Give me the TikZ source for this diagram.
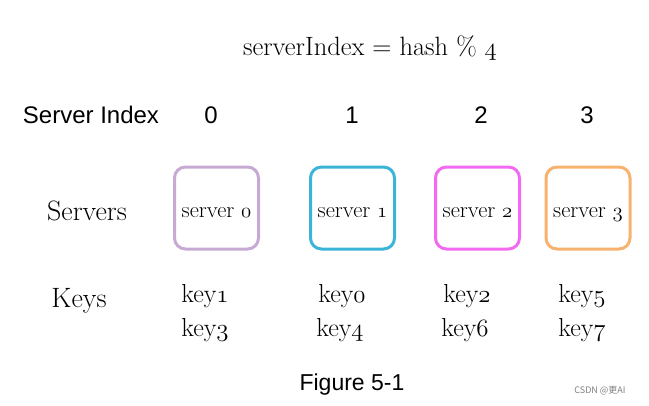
\documentclass[tikz,border=0pt]{standalone}
\usepackage{fontspec}
\usepackage{xcolor}
\usepackage{tikz}
\usetikzlibrary{positioning}
\newfontfamily\arialfont{Liberation Sans}
\newfontfamily\cjk{Noto Sans CJK SC}

\definecolor{lavbox}{RGB}{198,170,212}
\definecolor{cyanbox}{RGB}{60,180,216}
\definecolor{pinkbox}{RGB}{242,106,240}
\definecolor{orangebox}{RGB}{247,178,111}

\newcommand{\osn}[1]{{\usefont{OML}{cmm}{m}{it}#1}}

\begin{document}
\begin{tikzpicture}[x=1pt,y=-1pt,
    sanslabel/.style={font=\arialfont\fontsize{24}{28}\selectfont},
    seriflabel/.style={font=\fontsize{28}{32}\selectfont},
    keylabel/.style={font=\fontsize{26}{30}\selectfont,text height=18pt,text depth=7pt},
    srvbox/.style={draw,line width=3pt,rounded corners=11pt,minimum width=84pt,
      minimum height=82pt,text height=19pt,text depth=0pt,
      font=\fontsize{22.5}{26}\selectfont}]
  \useasboundingbox (0,0) rectangle (649,405);
  \node[font=\fontsize{26.5}{30}\selectfont] (formula) at (370,48) {serverIndex = hash \% \osn{4}};
  % index row
  \node[sanslabel] (idxlabel) at (91,115) {Server Index};
  \node[sanslabel] (idx0) at (211,115) {0};
  \node[sanslabel] (idx1) at (352,115) {1};
  \node[sanslabel] (idx2) at (481,115) {2};
  \node[sanslabel] (idx3) at (587,115) {3};
  % servers
  \node[seriflabel] (srvlabel) at (87,211) {Servers};
  \node[srvbox,draw=lavbox] (srv0) at (216.5,208) {server \osn{0}};
  \node[srvbox,draw=cyanbox] (srv1) at (352.5,208) {server \osn{1}};
  \node[srvbox,draw=pinkbox] (srv2) at (477.5,208) {server \osn{2}};
  \node[srvbox,draw=orangebox] (srv3) at (588,208) {server \osn{3}};
  % keys
  \node[seriflabel] (keyslabel) at (79,301) {Keys};
  \node[keylabel] (k1) at (205,297) {key\osn{1}};
  \node[keylabel] (k3) at (205,331) {key\osn{3}};
  \node[keylabel] (k0) at (342,297) {key\osn{0}};
  \node[keylabel] (k4) at (340,331) {key\osn{4}};
  \node[keylabel] (k2) at (467,297) {key\osn{2}};
  \node[keylabel] (k6) at (465,331) {key\osn{6}};
  \node[keylabel] (k5) at (582,297) {key\osn{5}};
  \node[keylabel] (k7) at (582,331) {key\osn{7}};
  \node[font=\arialfont\fontsize{23}{27}\selectfont] (caption) at (352,385) {Figure 5-1};
  \node[font=\cjk\fontsize{9}{11}\selectfont,text=gray] (mark) at (600,391) {CSDN @更AI};
\end{tikzpicture}
\end{document}
